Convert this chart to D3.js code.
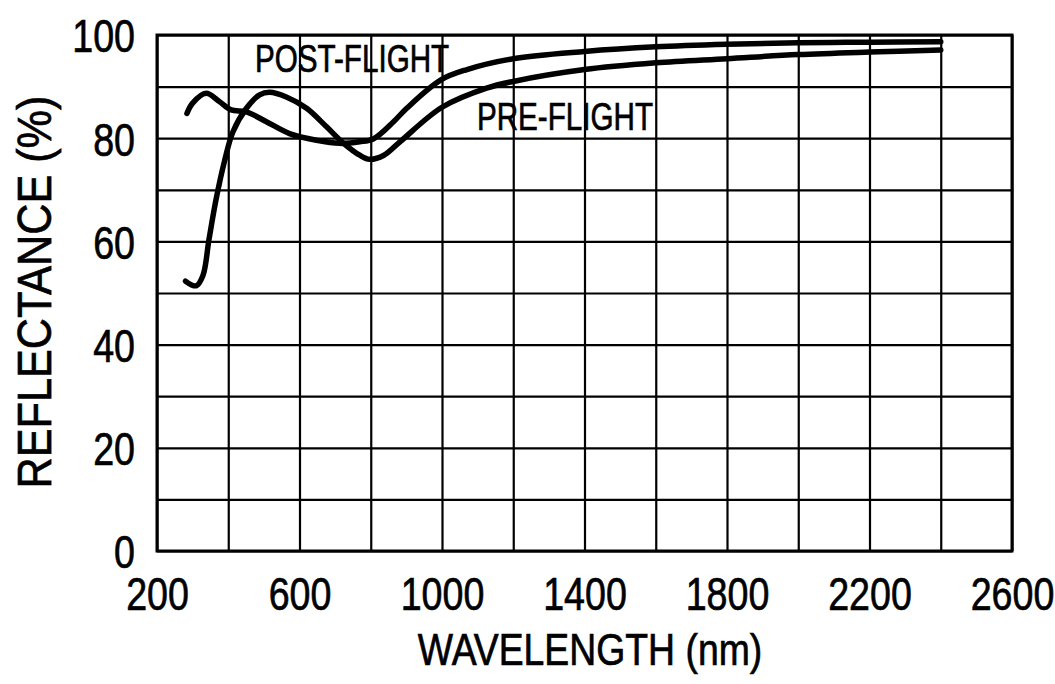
<!DOCTYPE html>
<html>
<head>
<meta charset="utf-8">
<script src="https://cdn.jsdelivr.net/npm/d3@7"></script>
<style>
  body { margin: 0; background: #fff; }
  text { font-family: "Liberation Sans", Arial, Helvetica, sans-serif; fill: #000; stroke: #000; stroke-width: 0.7px; }
</style>
</head>
<body>
<script>
// values
const postWave = [284, 300, 338, 375, 408, 451, 507, 572, 648, 713, 769, 808, 864, 901, 997, 1070, 1200, 1400, 1600, 1800, 2000, 2200, 2400];
const postRefl = [84.8, 86.8, 88.7, 87.1, 85.5, 85.1, 83.2, 80.9, 79.6, 79.0, 79.3, 79.9, 83.2, 85.8, 91.3, 93.3, 95.4, 96.8, 97.7, 98.2, 98.5, 98.6, 98.7];
const preWave = [280, 310, 329, 346, 366, 389, 413, 451, 488, 516, 563, 620, 676, 724, 769, 797, 837, 882, 1000, 1125, 1200, 1400, 1600, 1800, 2000, 2200, 2400];
const preRefl = [52.3, 51.4, 53.4, 60.4, 68.2, 75.4, 81.2, 85.8, 88.4, 88.9, 88.0, 85.8, 82.2, 79.0, 76.7, 75.9, 76.7, 79.3, 86.0, 89.7, 91.0, 93.3, 94.6, 95.4, 96.2, 96.7, 97.1];
const xTicks = [200, 600, 1000, 1400, 1800, 2200, 2600];
const yTicks = [0, 20, 40, 60, 80, 100];
const xGrid = d3.range(200, 2601, 200);
const yGrid = d3.range(0, 101, 10);

const width = 1055;
const height = 684;
const plotL = 157, plotR = 1012, plotT = 35, plotB = 551;
const squeeze = 0.8;

const svg = d3.select('body')
              .append('svg')
              .attr('width', width)
              .attr('height', height);

const x = d3.scaleLinear().domain([200, 2600]).range([plotL, plotR]);
const y = d3.scaleLinear().domain([0, 100]).range([plotB, plotT]);

// grid
svg.append('g')
   .attr('transform', `translate(0, ${plotB})`)
   .call(d3.axisBottom(x).tickValues(xGrid).tickSize(-(plotB - plotT)).tickFormat(''))
   .call(g => g.select('.domain').remove())
   .selectAll('line')
   .attr('stroke', '#000')
   .attr('stroke-width', 2.2);

svg.append('g')
   .attr('transform', `translate(${plotL}, 0)`)
   .call(d3.axisLeft(y).tickValues(yGrid).tickSize(-(plotR - plotL)).tickFormat(''))
   .call(g => g.select('.domain').remove())
   .selectAll('line')
   .attr('stroke', '#000')
   .attr('stroke-width', 2.2);

svg.append('rect')
   .attr('x', plotL)
   .attr('y', plotT)
   .attr('width', plotR - plotL)
   .attr('height', plotB - plotT)
   .attr('fill', 'none')
   .attr('stroke', '#000')
   .attr('stroke-width', 3);

// tick labels
const xAxis = svg.append('g')
   .attr('transform', `translate(0, ${plotB})`)
   .call(d3.axisBottom(x).tickValues(xTicks).tickSize(0).tickPadding(26).tickFormat(d3.format('d')));
xAxis.select('.domain').remove();
xAxis.attr('font-family', null).attr('font-size', null);
xAxis.selectAll('text')
     .attr('font-size', 47)
     .attr('transform', `scale(${squeeze},1)`);

const yAxis = svg.append('g')
   .attr('transform', `translate(${plotL}, 0)`)
   .call(d3.axisLeft(y).tickValues(yTicks).tickSize(0).tickFormat(d3.format('d')));
yAxis.select('.domain').remove();
yAxis.attr('font-family', null).attr('font-size', null);
yAxis.selectAll('text')
     .attr('font-size', 47)
     .attr('x', -22 / squeeze)
     .attr('dy', '0.36em')
     .attr('transform', `scale(${squeeze},1)`);

// axis titles
svg.append('text')
   .attr('transform', `translate(590, 665) scale(0.83,1)`)
   .attr('text-anchor', 'middle')
   .attr('font-size', 45)
   .text('WAVELENGTH (nm)');

svg.append('text')
   .attr('transform', `translate(51, 292) rotate(-90) scale(0.9,1)`)
   .attr('text-anchor', 'middle')
   .attr('font-size', 48)
   .text('REFLECTANCE (%)');

// curves
const line = d3.line()
               .x(d => x(d[0]))
               .y(d => y(d[1]))
               .curve(d3.curveCatmullRom.alpha(0.5));

const series = [
  { name: 'POST-FLIGHT', pts: d3.zip(postWave, postRefl), lx: 475, ly: 92.8 },
  { name: 'PRE-FLIGHT', pts: d3.zip(preWave, preRefl), lx: 1098, ly: 81.6 }
];

svg.selectAll('path.curve')
   .data(series)
   .enter()
   .append('path')
   .attr('class', 'curve')
   .attr('d', d => line(d.pts))
   .attr('fill', 'none')
   .attr('stroke', '#000')
   .attr('stroke-width', 5.5)
   .attr('stroke-linejoin', 'round')
   .attr('stroke-linecap', 'round');

svg.selectAll('text.lbl')
   .data(series)
   .enter()
   .append('text')
   .attr('class', 'lbl')
   .attr('transform', d => `translate(${x(d.lx)}, ${y(d.ly)}) scale(0.78,1)`)
   .attr('font-size', 38)
   .text(d => d.name);
</script>
</body>
</html>
